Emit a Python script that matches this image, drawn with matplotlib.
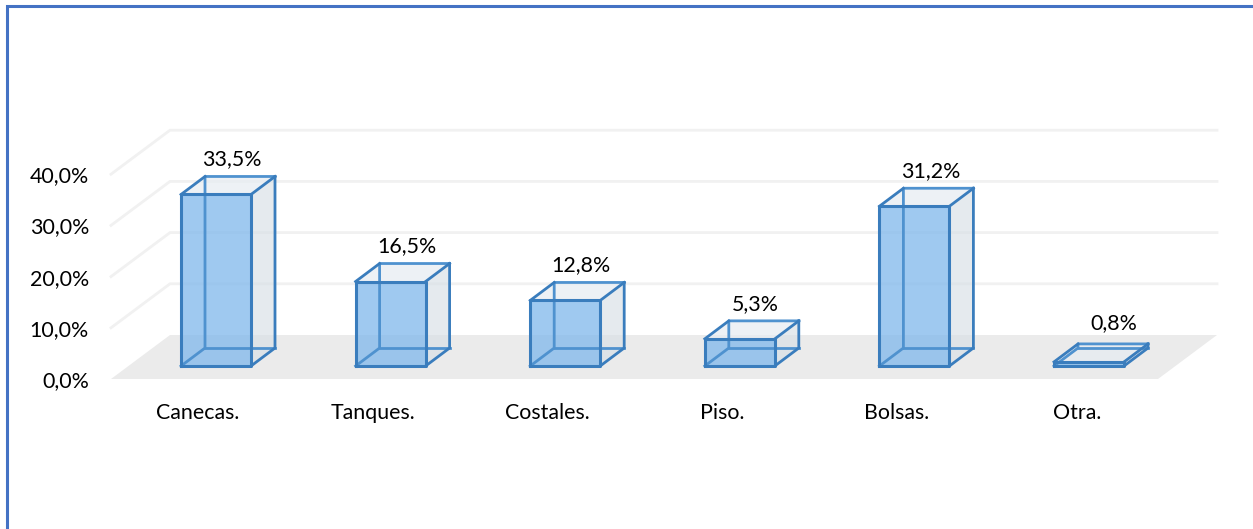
import matplotlib
matplotlib.use("Agg")
import matplotlib.pyplot as plt
from matplotlib.patches import Polygon

categories = ["Canecas.", "Tanques.", "Costales.", "Piso.", "Bolsas.", "Otra."]
values = [33.5, 16.5, 12.8, 5.3, 31.2, 0.8]
value_labels = ["33,5%", "16,5%", "12,8%", "5,3%", "31,2%", "0,8%"]
ticks = [0, 10, 20, 30, 40]
tick_labels = ["0,0%", "10,0%", "20,0%", "30,0%", "40,0%"]

W, H = 1253, 529
FS = 15.4
plt.rcParams["font.family"] = ["Lato", "DejaVu Sans"]
fig = plt.figure(figsize=(W / 100, H / 100), dpi=100)
ax = fig.add_axes([0, 0, 1, 1])

# scales: category i centre at px 216 + 174.6 i ; 0 % at floor front px 379, 5.12 px per %
PX_CAT, X0 = 174.6, 216.0
PX_PCT, Y0 = 5.12, 379.0
ax.set_xlim(-X0 / PX_CAT, (W - X0) / PX_CAT)
ax.set_ylim((Y0 - H) / PX_PCT, Y0 / PX_PCT)
ax.axis("off")

half = 35 / PX_CAT          # half bar width
dx, dy = 24 / PX_CAT, 18 / PX_PCT   # bar depth
base = 13 / PX_PCT          # bar base above floor front
fl = -105 / PX_CAT          # floor front left
fr = (1158 - X0) / PX_CAT   # floor front right
Dx, Dy = 59 / PX_CAT, 44 / PX_PCT   # floor depth

# floor
ax.add_patch(Polygon([(fl, 0), (fr, 0), (fr + Dx, Dy), (fl + Dx, Dy)],
                     fc="#ebebeb", ec="none", zorder=1))
# grid
for t in ticks[1:]:
    ax.plot([fl, fl + Dx, fr + Dx], [t, t + Dy, t + Dy], color="#f1f1f1", lw=2, zorder=1,
            solid_joinstyle="miter")
for t, lab in zip(ticks, tick_labels):
    ax.text((89 - X0) / PX_CAT, t - 2 / PX_PCT, lab, ha="right", va="center", fontsize=FS, color="#000000")

edge = "#3a7dbd"
inner = "#4f92cf"
for i, (v, lab, cat) in enumerate(zip(values, value_labels, categories)):
    l, r = i - half, i + half
    b, t = base, base + v
    # back faces
    ax.add_patch(Polygon([(r, b), (r + dx, b + dy), (r + dx, t + dy), (r, t)],
                         fc="#d7dfe6", ec="none", alpha=0.65, zorder=2))
    ax.add_patch(Polygon([(l, t), (r, t), (r + dx, t + dy), (l + dx, t + dy)],
                         fc="#e6ecf1", ec="none", alpha=0.7, zorder=2))
    # front face
    ax.add_patch(Polygon([(l, b), (r, b), (r, t), (l, t)], fc="#84baec", ec="none", alpha=0.78, zorder=3))
    # inner edges
    ax.plot([l, l + dx, l + dx, r + dx], [b, b + dy, t + dy, t + dy], color=inner, lw=2, zorder=4)
    ax.plot([l + dx, r + dx], [b + dy, b + dy], color=inner, lw=2, zorder=4)
    # outer edges
    ax.plot([l, r, r, l, l], [b, b, t, t, b], color=edge, lw=2.2, zorder=5, solid_joinstyle="round")
    ax.plot([r, r + dx, r + dx], [b, b + dy, t + dy], color=edge, lw=2, zorder=5)
    ax.plot([l, l + dx], [t, t + dy], color=edge, lw=2, zorder=5)
    ax.plot([r, r + dx], [t, t + dy], color=edge, lw=2, zorder=5)
    last = i == len(values) - 1
    ax.text(i + (25 if last else 16) / PX_CAT, t + dy + (21 if last else 17) / PX_PCT, lab,
            ha="center", va="center", fontsize=FS, color="#000000", zorder=6)
    ax.text(i + (-12 if last else -18) / PX_CAT, -34 / PX_PCT, cat, ha="center", va="center",
            fontsize=FS, color="#000000", zorder=6)

# chart frame: top and left borders
ax.plot([7 / W, 7 / W, 1], [0, 1 - 6 / H, 1 - 6 / H], transform=ax.transAxes,
        color="#4472c4", lw=2.2, solid_joinstyle="miter", clip_on=False)

fig.savefig("out.png", dpi=100, facecolor="white")
